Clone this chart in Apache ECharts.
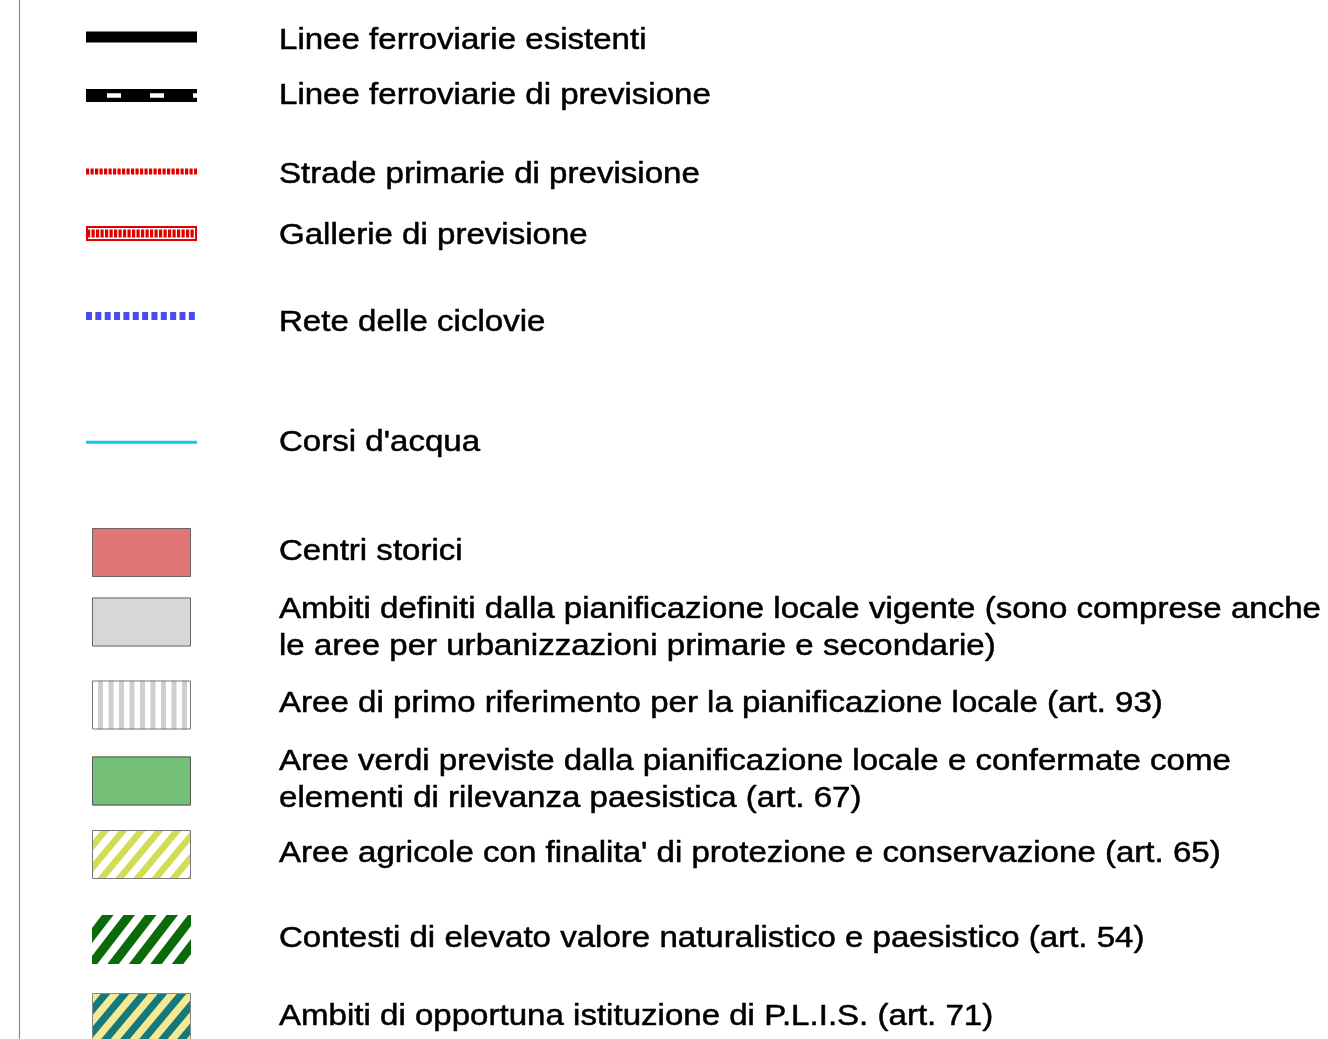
<!DOCTYPE html>
<html><head><meta charset="utf-8">
<script src="https://cdn.jsdelivr.net/npm/echarts@6/dist/echarts.min.js"></script>
<style>html,body{margin:0;padding:0;background:#fff}#c{width:1328px;height:1039px}</style>
</head><body><div id="c"></div>
<script>
// ---- legend content ----
const labels = [
  "Linee ferroviarie esistenti",
  "Linee ferroviarie di previsione",
  "Strade primarie di previsione",
  "Gallerie di previsione",
  "Rete delle ciclovie",
  "Corsi d'acqua",
  "Centri storici",
  "Ambiti definiti dalla pianificazione locale vigente (sono comprese anche\nle aree per urbanizzazioni primarie e secondarie)",
  "Aree di primo riferimento per la pianificazione locale (art. 93)",
  "Aree verdi previste dalla pianificazione locale e confermate come\nelementi di rilevanza paesistica (art. 67)",
  "Aree agricole con finalita' di protezione e conservazione (art. 65)",
  "Contesti di elevato valore naturalistico e paesistico (art. 54)",
  "Ambiti di opportuna istituzione di P.L.I.S. (art. 71)"
];
const symbolKinds = ["rail","railPlanned","roadPlanned","tunnelPlanned","cycle","water",
  "fill","fill","vstripes","fill","diag","diag","diag"];

// ---- styles ----
const symbolColors = ["#000000","#000000","#e00000","#e00000","#4b4bf2","#14c6e8",
  "#e07676","#d6d7d7","#cfcfcf","#75c078","#d3dc55","#0b6b0b","#15787a"];
const diagBackground = { 10: "#ffffff", 11: "#ffffff", 12: "#f4ea96" };
const diagPeriod = { 10: 18, 11: 21.5, 12: 19 };
const diagWidth = { 10: 8.5, 11: 11.5, 12: 9.5 };
const diagSlope = { 10: 1.2, 11: 1.3, 12: 1.2 };
const boxBorder = { 6: "#666", 7: "#666", 8: "#777", 9: "#555", 10: "#777", 11: null, 12: "#888" };

// ---- layout ----
const textY = [40.5, 95.5, 175, 236, 323, 443, 552, 609.5, 704, 761.5, 854, 939, 1017];
const symY  = [37, 95.5, 171.5, 233.5, 316, 442.3, 552.5, 622, 705, 781, 854.5, 939.5, 1017.5];
const TEXT_X = 279, LINE_H = 37, FONT_SIZE = 29, TEXT_SCALE_X = 1.14;
const SYM_X0 = 86, SYM_X1 = 197, BOX_X = 92, BOX_W = 99, BOX_H = 49;

function clipPoly(pts, x0, y0, x1, y1) {
  const edges = [
    [p => p[0] >= x0, (a,b) => { const t=(x0-a[0])/(b[0]-a[0]); return [x0, a[1]+t*(b[1]-a[1])]; }],
    [p => p[0] <= x1, (a,b) => { const t=(x1-a[0])/(b[0]-a[0]); return [x1, a[1]+t*(b[1]-a[1])]; }],
    [p => p[1] >= y0, (a,b) => { const t=(y0-a[1])/(b[1]-a[1]); return [a[0]+t*(b[0]-a[0]), y0]; }],
    [p => p[1] <= y1, (a,b) => { const t=(y1-a[1])/(b[1]-a[1]); return [a[0]+t*(b[0]-a[0]), y1]; }]
  ];
  let out = pts;
  for (const [inside, inter] of edges) {
    const inp = out; out = [];
    if (!inp.length) break;
    for (let k = 0; k < inp.length; k++) {
      const cur = inp[k], prev = inp[(k + inp.length - 1) % inp.length];
      const ci = inside(cur), pi = inside(prev);
      if (ci) { if (!pi) out.push(inter(prev, cur)); out.push(cur); }
      else if (pi) out.push(inter(prev, cur));
    }
  }
  return out;
}

function renderItem(params, api) {
  const i = api.value(0);
  const kind = symbolKinds[i];
  const col = symbolColors[i];
  const P = (x, y) => api.coord([x, y]);
  const ch = [];
  const line = (x1, y1, x2, y2, style) => {
    const a = P(x1, y1), b = P(x2, y2);
    ch.push({ type: 'line', shape: { x1: a[0], y1: a[1], x2: b[0], y2: b[1] }, style });
  };
  const rect = (x, y, w, h, style) => {
    const a = P(x, y), b = P(x + w, y + h);
    ch.push({ type: 'rect', shape: { x: a[0], y: a[1], width: b[0] - a[0], height: b[1] - a[1] }, style });
  };
  if (i === 0) line(19.5, 0, 19.5, 1039, { stroke: '#8a8a8a', lineWidth: 1.2 });
  const y = symY[i];
  if (kind === 'rail') {
    rect(SYM_X0, y - 5.5, SYM_X1 - SYM_X0, 11, { fill: col });
  } else if (kind === 'railPlanned') {
    rect(SYM_X0, y - 6.5, SYM_X1 - SYM_X0, 13, { fill: col });
    line(107, y, SYM_X1, y, { stroke: '#fff', lineWidth: 4.5, lineDash: [14, 29] });
  } else if (kind === 'roadPlanned') {
    line(SYM_X0, y, SYM_X1, y, { stroke: col, lineWidth: 6, lineDash: [3.2, 1.3] });
  } else if (kind === 'tunnelPlanned') {
    rect(SYM_X0 + 1, y - 6.5, SYM_X1 - SYM_X0 - 2, 13, { fill: 'none', stroke: col, lineWidth: 2 });
    line(SYM_X0 + 1, y, SYM_X1 - 1, y, { stroke: col, lineWidth: 8, lineDash: [3.2, 1.3] });
  } else if (kind === 'cycle') {
    line(SYM_X0, y, 195, y, { stroke: col, lineWidth: 8, lineDash: [6, 3.35] });
  } else if (kind === 'water') {
    line(SYM_X0, y, SYM_X1, y, { stroke: col, lineWidth: 3 });
  } else {
    const y0 = y - BOX_H / 2, y1 = y + BOX_H / 2, x0 = BOX_X, x1 = BOX_X + BOX_W;
    if (kind === 'fill') {
      rect(x0, y0, BOX_W, BOX_H, { fill: col });
    } else if (kind === 'vstripes') {
      rect(x0, y0, BOX_W, BOX_H, { fill: '#fff' });
      for (let sx = x0 + 6; sx < x1 - 1; sx += 10.5) {
        rect(sx, y0, Math.min(5, x1 - sx), BOX_H, { fill: col });
      }
    } else if (kind === 'diag') {
      rect(x0, y0, BOX_W, BOX_H, { fill: diagBackground[i] });
      const p = diagPeriod[i], w = diagWidth[i], s = diagSlope[i], H = y1 - y0;
      for (let c = x0 - H / s - w - p; c < x1 + p; c += p) {
        const poly = [[c, y1], [c + w, y1], [c + w + H / s, y0], [c + H / s, y0]];
        const cl = clipPoly(poly, x0, y0, x1, y1);
        if (cl.length >= 3) ch.push({ type: 'polygon', shape: { points: cl.map(q => P(q[0], q[1])) }, style: { fill: col } });
      }
    }
    if (boxBorder[i]) rect(x0 + 0.5, y0 + 0.5, BOX_W - 1, BOX_H - 1, { fill: 'none', stroke: boxBorder[i], lineWidth: 1 });
  }
  const tp = P(TEXT_X, textY[i] - LINE_H / 2);
  ch.push({
    type: 'text', x: tp[0], y: tp[1], scaleX: TEXT_SCALE_X,
    style: { text: labels[i], fill: '#000', stroke: '#000', lineWidth: 0.5,
      font: FONT_SIZE + 'px "Liberation Sans", Arial, sans-serif',
      verticalAlign: 'top', align: 'left', lineHeight: LINE_H }
  });
  return { type: 'group', children: ch };
}

const chart = echarts.init(document.getElementById('c'), null, { renderer: 'canvas' });
chart.setOption({
  animation: false,
  backgroundColor: '#fff',
  grid: { left: 0, right: 0, top: 0, bottom: 0 },
  xAxis: { type: 'value', min: 0, max: 1328, show: false },
  yAxis: { type: 'value', min: 0, max: 1039, inverse: true, show: false },
  series: [{
    type: 'custom', renderItem, clip: false,
    data: labels.map((_, k) => [k]),
    encode: { x: -1, y: -1 }
  }]
});
</script></body></html>
